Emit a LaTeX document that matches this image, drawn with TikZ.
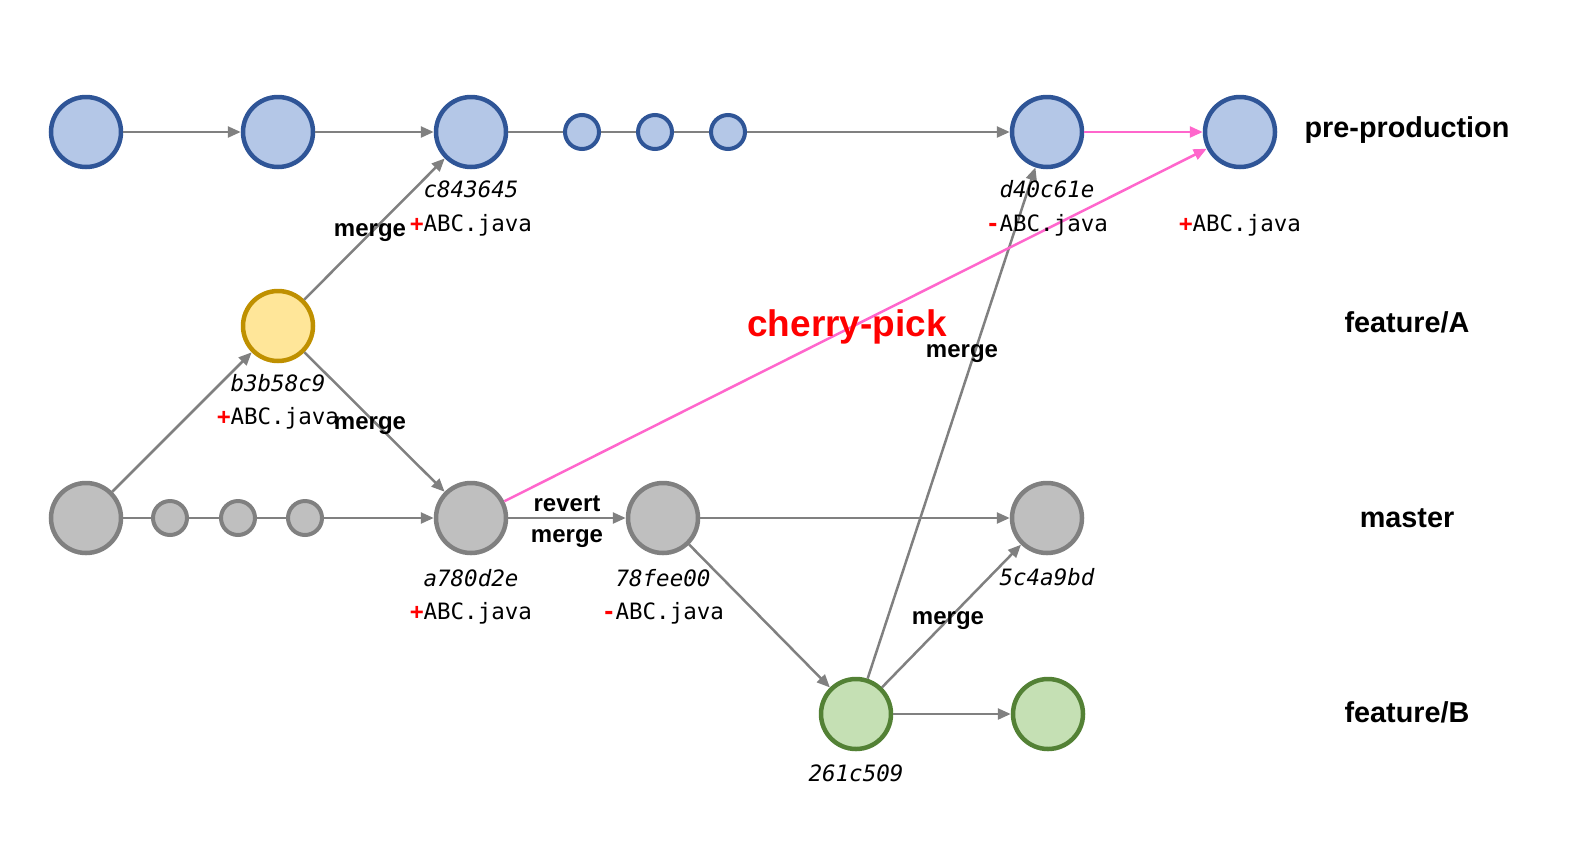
\documentclass[tikz,border=0pt]{standalone}
\usepackage{fontspec}
\setmainfont{Liberation Sans}
\newfontfamily\monofont{DejaVu Sans Mono}
\usetikzlibrary{arrows.meta}
\definecolor{bfill}{HTML}{B4C7E7}
\definecolor{bline}{HTML}{2F5597}
\definecolor{yfill}{HTML}{FFE699}
\definecolor{yline}{HTML}{BF9000}
\definecolor{gfill}{HTML}{BFBFBF}
\definecolor{gline}{HTML}{808080}
\definecolor{grfill}{HTML}{C5E0B4}
\definecolor{grline}{HTML}{538135}
\definecolor{pinkc}{HTML}{FF66CC}
\definecolor{conn}{HTML}{808080}
\tikzset{
  commit/.style={circle, inner sep=0pt, minimum size=70pt, line width=4.5pt},
  small/.style={circle, inner sep=0pt, minimum size=34pt, line width=4pt},
  blue/.style={draw=bline, fill=bfill},
  yel/.style={draw=yline, fill=yfill},
  gry/.style={draw=gline, fill=gfill},
  grn/.style={draw=grline, fill=grfill},
  link/.style={draw=conn, line width=2.5pt},
  arr/.style={link, -{Triangle[length=13pt,width=11pt]}},
  parr/.style={draw=pinkc, line width=2.5pt, -{Triangle[length=13pt,width=11pt]}},
  branch/.style={font=\fontsize{28.8}{34}\selectfont\bfseries, inner sep=0pt, anchor=base},
  lab/.style={font=\fontsize{24}{28}\selectfont\bfseries, inner sep=0pt, anchor=base},
  hash/.style={font=\monofont\fontsize{22.5}{26}\selectfont\itshape, inner sep=0pt, anchor=base},
  file/.style={font=\monofont\fontsize{22.5}{26}\selectfont, inner sep=0pt, anchor=base},
}
\newcommand{\plusf}{{\color{red}\bfseries+}ABC.java}
\newcommand{\minusf}{{\color{red}\bfseries-}ABC.java}
\begin{document}
\begin{tikzpicture}[x=1pt,y=-1pt]
\useasboundingbox (0,0) rectangle (1573,847);
% pre-production
\node[commit,blue] (p1) at (86,132) {};
\node[commit,blue] (p2) at (278,132) {};
\node[commit,blue] (p3) at (471,132) {};
\node[small,blue] (ps1) at (582,132) {};
\node[small,blue] (ps2) at (655,132) {};
\node[small,blue] (ps3) at (728,132) {};
\node[commit,blue] (p4) at (1047,132) {};
\node[commit,blue] (p5) at (1240,132) {};
% feature/A
\node[commit,yel] (a1) at (278,326) {};
% master
\node[commit,gry] (m1) at (86,518) {};
\node[small,gry] (ms1) at (170,518) {};
\node[small,gry] (ms2) at (238,518) {};
\node[small,gry] (ms3) at (305,518) {};
\node[commit,gry] (m2) at (471,518) {};
\node[commit,gry] (m3) at (663,518) {};
\node[commit,gry] (m4) at (1047,518) {};
% feature/B
\node[commit,grn] (b1) at (856,714) {};
\node[commit,grn] (b2) at (1048,714) {};
% branch labels
\node[branch] (lp) at (1407,137) {pre-production};
\node[branch] (la) at (1407,332) {feature/A};
\node[branch] (lm) at (1407,527) {master};
\node[branch] (lb) at (1407,722) {feature/B};
% connectors
\draw[arr] (p1) -- (p2);
\draw[arr] (p2) -- (p3);
\draw[link] (p3) -- (ps1);
\draw[link] (ps1) -- (ps2);
\draw[link] (ps2) -- (ps3);
\draw[arr] (ps3) -- (p4);
\draw[parr] (p4) -- (p5);
\draw[link] (m1) -- (ms1);
\draw[link] (ms1) -- (ms2);
\draw[link] (ms2) -- (ms3);
\draw[arr] (ms3) -- (m2);
\draw[arr] (m2) -- (m3);
\draw[arr] (m3) -- (m4);
\draw[arr] (m1) -- (a1);
\draw[arr] (a1) -- (p3);
\draw[arr] (a1) -- (m2);
\draw[arr] (m3) -- (b1);
\draw[arr] (b1) -- (p4);
\draw[arr] (b1) -- (m4);
\draw[arr] (b1) -- (b2);
\draw[parr] (m2) -- (p5);
% texts
\node[hash] (h1) at (471,197) {c843645};
\node[file] (f1) at (471,231) {\plusf};
\node[lab] (g1) at (370,236) {merge};
\node[hash] (h2) at (278,391) {b3b58c9};
\node[file] (f2) at (278,424) {\plusf};
\node[lab] (g2) at (370,429) {merge};
\node[hash] (h3) at (1047,197) {d40c61e};
\node[file] (f3) at (1047,231) {\minusf};
\node[file] (f4) at (1240,231) {\plusf};
\node[font=\fontsize{37}{44}\selectfont\bfseries, text=red, inner sep=0pt, anchor=base] (cp) at (847,336) {cherry-pick};
\node[lab] (g3) at (962,357) {merge};
\node[lab] (g4) at (567,511) {revert};
\node[lab] (g5) at (567,542) {merge};
\node[hash] (h4) at (471,586) {a780d2e};
\node[file] (f5) at (471,619) {\plusf};
\node[hash] (h5) at (663,586) {78fee00};
\node[file] (f6) at (663,619) {\minusf};
\node[hash] (h6) at (1047,585) {5c4a9bd};
\node[lab] (g6) at (948,624) {merge};
\node[hash] (h7) at (856,781) {261c509};
\end{tikzpicture}
\end{document}
